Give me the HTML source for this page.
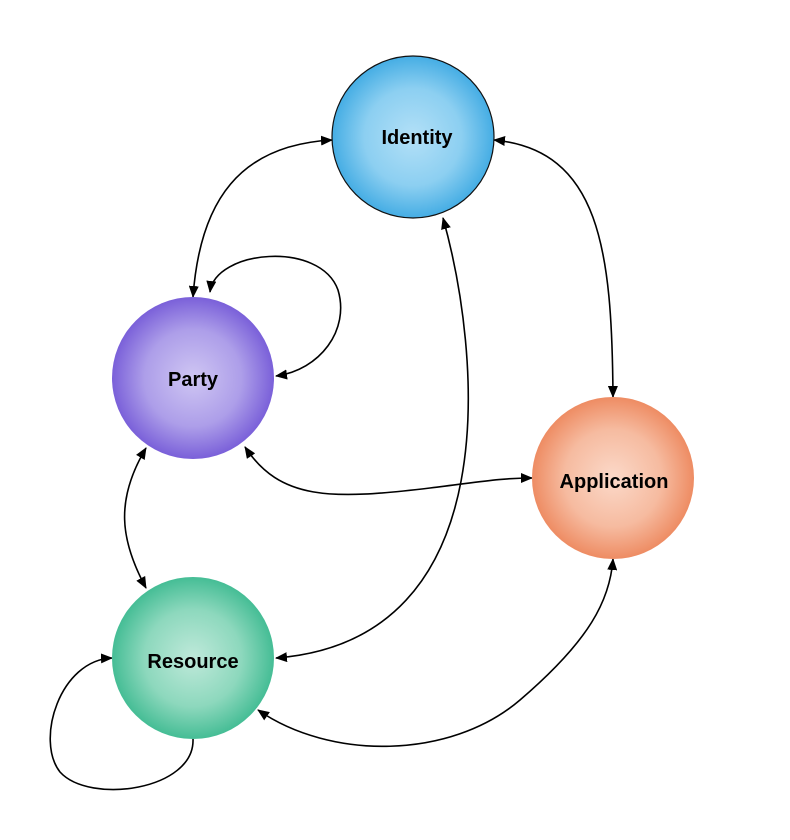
<!DOCTYPE html>
<html><head><style>
html,body{margin:0;padding:0;background:#fff;}
svg{display:block;}
text{font-family:"Liberation Sans",sans-serif;font-weight:bold;font-size:20px;fill:#000;}
</style></head><body>
<svg width="790" height="840" viewBox="0 0 790 840" xmlns="http://www.w3.org/2000/svg">
<defs>
<radialGradient id="gi"><stop offset="0" stop-color="#b3e0f7"/><stop offset="0.6" stop-color="#8ccff1"/><stop offset="1" stop-color="#45ade4"/></radialGradient>
<radialGradient id="gp"><stop offset="0" stop-color="#cfc6f3"/><stop offset="0.6" stop-color="#ad9ee9"/><stop offset="1" stop-color="#7a60d9"/></radialGradient>
<radialGradient id="ga"><stop offset="0" stop-color="#fbd9c9"/><stop offset="0.6" stop-color="#f6bba0"/><stop offset="1" stop-color="#ee8c63"/></radialGradient>
<radialGradient id="gr"><stop offset="0" stop-color="#bfe9da"/><stop offset="0.6" stop-color="#8dd8bd"/><stop offset="1" stop-color="#45bd95"/></radialGradient>
<marker id="ar" viewBox="0 0 12 10" refX="11" refY="5" markerWidth="12" markerHeight="10" markerUnits="userSpaceOnUse" orient="auto-start-reverse">
<path d="M0,0 L12,5 L0,10 z" fill="#000"/></marker>
</defs>
<g fill="none" stroke="#000" stroke-width="1.6" marker-start="url(#ar)" marker-end="url(#ar)">
<path d="M332,140 C240,145 200,200 193,297"/>
<path d="M210,292 C215,250 320,240 338,290 C350,330 320,370 276,376"/>
<path d="M494,140 C600,150 612,250 613,397"/>
<path d="M443,218 C480,350 510,640 276,658"/>
<path d="M245,447 C280,500 330,500 430,488 C480,482 500,478 532,478"/>
<path d="M146,448 C115,500 120,540 146,588"/>
<path d="M193,739 C195,790 90,805 60,772 C35,740 60,660 112,658" marker-start="none"/>
<path d="M258,710 C330,760 450,760 520,700 C590,640 610,600 613,559"/>
</g>
<circle cx="413" cy="137" r="81" fill="url(#gi)" stroke="#111" stroke-width="1.2"/>
<circle cx="193" cy="378" r="81" fill="url(#gp)"/>
<circle cx="613" cy="478" r="81" fill="url(#ga)"/>
<circle cx="193" cy="658" r="81" fill="url(#gr)"/>
<text x="417" y="144" text-anchor="middle">Identity</text>
<text x="193" y="386" text-anchor="middle">Party</text>
<text x="614" y="488" text-anchor="middle">Application</text>
<text x="193" y="668" text-anchor="middle">Resource</text>
</svg>
</body></html>
